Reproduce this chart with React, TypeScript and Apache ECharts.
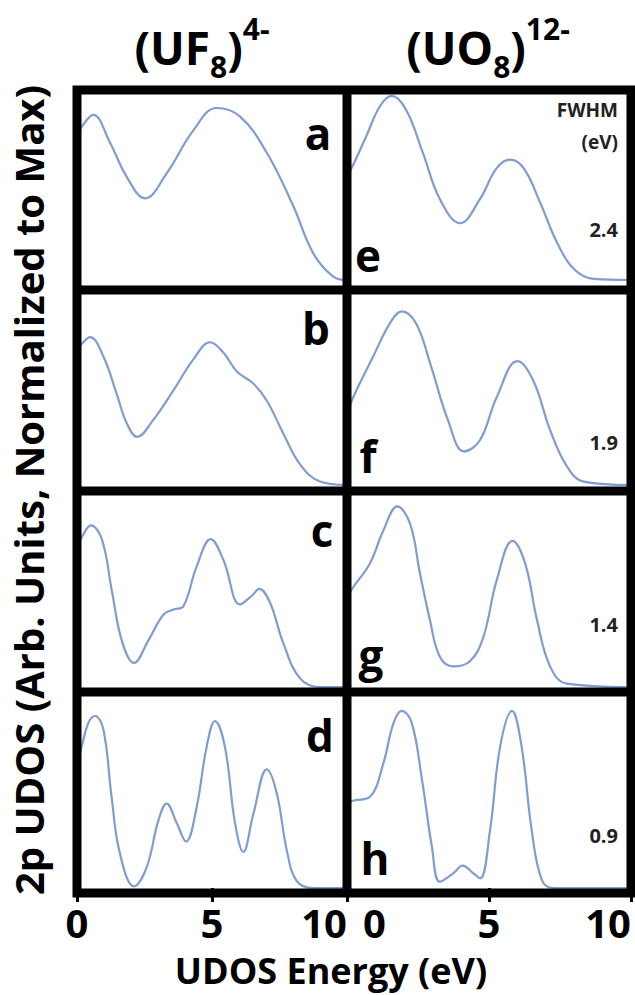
import React, { useEffect, useRef } from 'react';
import * as echarts from 'echarts';

// ---- Data ----
const energyA = [0, 0.17, 0.6, 1.22, 1.84, 2.52, 3.32, 4.31, 5.17, 6.04, 7.03, 8.01, 8.75, 9.49, 10];
const udosA = [0.84, 0.89, 0.96, 0.8, 0.6, 0.475, 0.62, 0.87, 1.0, 0.95, 0.74, 0.43, 0.155, 0.02, 0];

const energyB = [0, 0.17, 0.48, 0.97, 1.47, 1.84, 2.23, 2.83, 3.57, 4.31, 4.93, 5.42, 5.92, 6.53, 7.03, 7.64, 8.26, 9.0, 10];
const udosB = [0.79, 0.82, 0.86, 0.75, 0.53, 0.36, 0.28, 0.38, 0.55, 0.73, 0.83, 0.77, 0.66, 0.59, 0.49, 0.3, 0.12, 0.02, 0];

const energyC = [0, 0.17, 0.51, 0.92, 1.29, 1.66, 2.11, 2.64, 3.2, 3.57, 3.94, 4.43, 4.95, 5.42, 6.04, 6.47, 6.75, 7.15, 7.64, 8.26, 9.0, 10];
const udosC = [0.82, 0.87, 0.94, 0.86, 0.56, 0.27, 0.14, 0.27, 0.42, 0.45, 0.47, 0.7, 0.86, 0.74, 0.48, 0.53, 0.57, 0.49, 0.255, 0.05, 0, 0];

const energyD = [0, 0.17, 0.42, 0.67, 0.98, 1.28, 1.59, 2.11, 2.58, 3.01, 3.32, 3.69, 4.04, 4.43, 4.8, 5.11, 5.48, 5.85, 6.16, 6.53, 7.03, 7.4, 7.77, 8.14, 8.75, 10];
const udosD = [0.73, 0.82, 0.96, 1.0, 0.92, 0.53, 0.2, 0.01, 0.12, 0.39, 0.49, 0.38, 0.27, 0.47, 0.82, 0.97, 0.82, 0.38, 0.21, 0.43, 0.69, 0.55, 0.22, 0.04, 0, 0];

const energyE = [0, 0.22, 0.69, 1.16, 1.57, 2.08, 2.67, 3.27, 3.98, 4.68, 5.27, 5.74, 6.22, 6.8, 7.39, 7.98, 8.69, 10];
const udosE = [0.6, 0.67, 0.84, 1.01, 1.07, 0.99, 0.74, 0.47, 0.33, 0.47, 0.65, 0.7, 0.65, 0.45, 0.22, 0.065, 0.006, 0];

const energyF = [0, 0.22, 0.93, 1.51, 1.93, 2.43, 2.96, 3.55, 4.12, 4.68, 5.27, 6.0, 6.55, 7.15, 7.74, 8.33, 10];
const udosF = [0.41, 0.51, 0.75, 0.94, 1.01, 0.94, 0.69, 0.38, 0.195, 0.26, 0.51, 0.72, 0.61, 0.32, 0.11, 0.02, 0];

const energyG = [0, 0.22, 0.81, 1.28, 1.77, 2.22, 2.57, 2.92, 3.27, 3.74, 4.33, 4.8, 5.27, 5.83, 6.27, 6.69, 7.15, 7.74, 10];
const udosG = [0.52, 0.58, 0.72, 0.91, 1.05, 0.95, 0.66, 0.39, 0.176, 0.12, 0.15, 0.29, 0.62, 0.85, 0.72, 0.39, 0.12, 0.02, 0];

const energyH = [0, 0.28, 0.81, 1.28, 1.64, 1.93, 2.28, 2.64, 2.99, 3.27, 3.74, 4.07, 4.45, 4.69, 5.04, 5.39, 5.81, 6.15, 6.5, 6.86, 7.27, 10];
const udosH = [0.5, 0.51, 0.53, 0.725, 0.96, 1.03, 0.96, 0.63, 0.24, 0.037, 0.085, 0.13, 0.085, 0.056, 0.34, 0.82, 1.03, 0.82, 0.34, 0.047, 0, 0];

const panelLetters = ['a', 'b', 'c', 'd', 'e', 'f', 'g', 'h'];
const fwhmValues = ['2.4', '1.9', '1.4', '0.9'];
const fwhmHeader = ['FWHM', '(eV)'];
const titleLeft = '{m|(UF}{s|8}{m|)}{p|4-}';
const titleRight = '{m|(UO}{s|8}{m|)}{p|12-}';
const yTitle = '2p UDOS (Arb. Units, Normalized to Max)';
const xTitle = 'UDOS Energy (eV)';

// ---- Layout / style ----
const W = 635;
const H = 995;
const FONT = "'Open Sans', 'DejaVu Sans', sans-serif";
const LINE_COLOR = '#7f9dd0';
const FRAME_L = 77;
const FRAME_M = 347;
const FRAME_R = 631;
const ROWS = [90, 290, 491, 692, 893];
const Y_ZERO = [280, 485, 687, 888];
const PX_PER_UNIT = 172;
const FRAME_W = 9;
const LETTER_POS = [
  [318, 133], [316, 328], [322, 530], [320, 735],
  [368, 255], [368, 456], [371, 655], [375, 858],
];
const FWHM_X = 618;
const FWHM_HEADER_Y = [110, 142];
const FWHM_Y = [229, 442, 624, 835];

const panels = [
  [energyA, udosA], [energyB, udosB], [energyC, udosC], [energyD, udosD],
  [energyE, udosE], [energyF, udosF], [energyG, udosG], [energyH, udosH],
];

function buildOption() {
  const grid: any[] = [];
  const xAxis: any[] = [];
  const yAxis: any[] = [];
  const series: any[] = [];
  panels.forEach(([en, ud], i) => {
    const col = Math.floor(i / 4);
    const row = i % 4;
    const left = col === 0 ? FRAME_L : FRAME_M;
    const width = col === 0 ? FRAME_M - FRAME_L : FRAME_R - FRAME_M;
    const top = ROWS[row];
    const height = ROWS[row + 1] - ROWS[row];
    grid.push({ left, top, width, height, show: false, containLabel: false, outerBoundsMode: 'none' });
    const isBottom = row === 3;
    const labelRich = {
      p: { padding: [0, 0, 0, 16], fontSize: 40, lineHeight: 40, fontWeight: 'bold', fontFamily: FONT, color: '#000' },
    };
    xAxis.push({
      gridIndex: i,
      type: 'value',
      min: 0,
      max: 10,
      interval: 5,
      show: isBottom,
      axisLine: { show: false },
      splitLine: { show: false },
      axisTick: { show: isBottom, length: 14, lineStyle: { color: '#000', width: 3 } },
      axisLabel: {
        show: isBottom,
        fontSize: 40,
        lineHeight: 40,
        fontWeight: 'bold',
        fontFamily: FONT,
        color: '#000',
        margin: 9,
        alignMinLabel: col === 0 ? 'center' : 'left',
        alignMaxLabel: 'right',
        formatter: (v: number) => (col === 1 && v === 0 ? '{p|0}' : String(v)),
        rich: labelRich,
      },
    });
    const yMin = -(ROWS[row + 1] - Y_ZERO[row]) / PX_PER_UNIT;
    yAxis.push({
      gridIndex: i,
      type: 'value',
      show: false,
      min: yMin,
      max: yMin + height / PX_PER_UNIT,
      splitLine: { show: false },
    });
    series.push({
      type: 'line',
      xAxisIndex: i,
      yAxisIndex: i,
      data: en.map((x, k) => [x, ud[k]]),
      symbol: 'none',
      showSymbol: false,
      smooth: 0.4,
      clip: true,
      lineStyle: { color: LINE_COLOR, width: 2.2 },
      z: 2,
    });
  });

  const graphic: any[] = [];
  // frame
  graphic.push({
    type: 'rect',
    z: 100,
    shape: { x: FRAME_L, y: ROWS[0], width: FRAME_R - FRAME_L, height: ROWS[4] - ROWS[0] },
    style: { fill: 'none', stroke: '#000', lineWidth: FRAME_W },
  });
  graphic.push({
    type: 'line',
    z: 100,
    shape: { x1: FRAME_M, y1: ROWS[0], x2: FRAME_M, y2: ROWS[4] },
    style: { stroke: '#000', lineWidth: FRAME_W },
  });
  for (let r = 1; r < 4; r++) {
    graphic.push({
      type: 'line',
      z: 100,
      shape: { x1: FRAME_L, y1: ROWS[r], x2: FRAME_R, y2: ROWS[r] },
      style: { stroke: '#000', lineWidth: FRAME_W },
    });
  }
  // panel letters
  panelLetters.forEach((t, i) => {
    graphic.push({
      type: 'text',
      z: 101,
      style: {
        text: t, x: LETTER_POS[i][0], y: LETTER_POS[i][1],
        textAlign: 'center', textVerticalAlign: 'middle', align: 'center', verticalAlign: 'middle',
        fontSize: 44, fontWeight: 'bold', fontFamily: FONT, fill: '#000',
      },
    });
  });
  // FWHM labels
  fwhmHeader.forEach((t, i) => {
    graphic.push({
      type: 'text', z: 101,
      style: {
        text: t, x: FWHM_X, y: FWHM_HEADER_Y[i],
        textAlign: 'right', textVerticalAlign: 'middle', align: 'right', verticalAlign: 'middle',
        fontSize: 19, fontWeight: 'bold', fontFamily: FONT, fill: '#222',
      },
    });
  });
  fwhmValues.forEach((t, i) => {
    graphic.push({
      type: 'text', z: 101,
      style: {
        text: t, x: FWHM_X, y: FWHM_Y[i],
        textAlign: 'right', textVerticalAlign: 'middle', align: 'right', verticalAlign: 'middle',
        fontSize: 20, fontWeight: 'bold', fontFamily: FONT, fill: '#222',
      },
    });
  });
  // column titles
  const titleRich = {
    m: { fontSize: 46, fontWeight: 'bold', fontFamily: FONT, lineHeight: 68, verticalAlign: 'middle', fill: '#000', color: '#000' },
    s: { fontSize: 30, fontWeight: 'bold', fontFamily: FONT, lineHeight: 30, verticalAlign: 'bottom', fill: '#000', color: '#000' },
    p: { fontSize: 30, fontWeight: 'bold', fontFamily: FONT, lineHeight: 54, verticalAlign: 'top', fill: '#000', color: '#000' },
  };
  [[titleLeft, 202], [titleRight, 488]].forEach(([t, x]) => {
    graphic.push({
      type: 'text', z: 101,
      style: {
        text: t, x, y: 47, rich: titleRich,
        textAlign: 'center', textVerticalAlign: 'middle', align: 'center', verticalAlign: 'middle',
        fontSize: 46, fontWeight: 'bold', fontFamily: FONT, fill: '#000',
      },
    });
  });
  // axis titles
  graphic.push({
    type: 'text', z: 101,
    x: 28, y: 490, rotation: Math.PI / 2,
    style: {
      text: yTitle, x: 0, y: 0,
      textAlign: 'center', textVerticalAlign: 'middle', align: 'center', verticalAlign: 'middle',
      fontSize: 40, lineHeight: 44, fontWeight: 'bold', fontFamily: FONT, fill: '#000',
    },
  });
  graphic.push({
    type: 'text', z: 101,
    style: {
      text: xTitle, x: 331, y: 970,
      textAlign: 'center', textVerticalAlign: 'middle', align: 'center', verticalAlign: 'middle',
      fontSize: 36, lineHeight: 38, fontWeight: 'bold', fontFamily: FONT, fill: '#000',
    },
  });

  return {
    animation: false,
    backgroundColor: '#fff',
    textStyle: { fontFamily: FONT },
    grid,
    xAxis,
    yAxis,
    series,
    graphic,
  };
}

export default function App() {
  const ref = useRef<HTMLDivElement>(null);
  useEffect(() => {
    if (!ref.current) return;
    const chart = echarts.init(ref.current, null, { renderer: 'svg', width: W, height: H });
    chart.setOption(buildOption() as any);
    return () => chart.dispose();
  }, []);
  return (
    <div
      ref={ref}
      style={{ position: 'fixed', left: 0, top: 0, width: W, height: H, background: '#fff' }}
    />
  );
}
